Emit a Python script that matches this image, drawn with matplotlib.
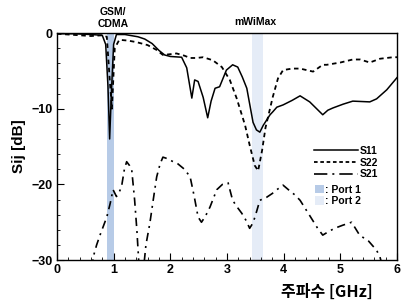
import matplotlib.pyplot as plt
from matplotlib.lines import Line2D
from matplotlib.patches import Patch

plt.rcParams['font.family'] = ['Liberation Sans', 'Noto Sans CJK KR', 'DejaVu Sans']

# S11 (solid)
s11_f = [0, 0.3, 0.6, 0.8, 0.86, 0.9, 0.93, 0.96, 1.0, 1.05, 1.2, 1.43, 1.55, 1.68, 1.8, 1.9,
         2.0, 2.2, 2.29, 2.38, 2.43, 2.49, 2.58, 2.66, 2.72, 2.79, 2.87, 2.99, 3.1, 3.19, 3.27,
         3.35, 3.46, 3.52, 3.58, 3.64, 3.7, 3.76, 3.81, 3.88, 3.99, 4.15, 4.29, 4.46, 4.69, 4.78,
         4.87, 5.05, 5.22, 5.52, 5.64, 5.82, 6.0]
s11 = [-0.1, -0.1, -0.2, -0.3, -1.5, -7.0, -14.0, -8.0, -1.5, -0.2, -0.2, -0.5, -0.8, -1.4, -2.3, -2.9,
       -3.1, -3.2, -4.6, -8.6, -6.2, -6.4, -8.5, -11.2, -9.0, -7.3, -7.1, -4.9, -4.2, -4.5, -5.8,
       -7.3, -11.8, -12.8, -13.1, -12.2, -11.5, -10.8, -10.4, -9.8, -9.5, -8.9, -8.3, -9.1, -10.8, -10.2,
       -9.9, -9.4, -9.0, -9.1, -8.7, -7.5, -5.9]

# S22 (dashed)
s22_f = [0, 0.2, 0.4, 0.6, 0.8, 0.88, 0.93, 0.97, 1.02, 1.1, 1.25, 1.4, 1.6, 1.75, 1.87, 2.0,
         2.11, 2.25, 2.35, 2.46, 2.58, 2.75, 2.91, 3.05, 3.17, 3.32, 3.4, 3.49, 3.55, 3.62, 3.68,
         3.81, 3.9, 3.99, 4.15, 4.29, 4.52, 4.69, 4.76, 5.0, 5.22, 5.35, 5.52, 5.7, 5.93, 6.0]
s22 = [-0.1, -0.2, -0.3, -0.4, -0.3, -0.5, -6.0, -10.0, -2.0, -0.9, -1.0, -1.2, -1.6, -2.2, -2.9, -2.8,
       -2.7, -3.0, -3.3, -3.3, -3.2, -3.6, -4.5, -6.2, -8.6, -12.2, -14.8, -17.5, -18.2, -15.5, -12.5,
       -8.4, -6.0, -4.9, -4.7, -4.7, -5.1, -4.2, -4.2, -3.9, -3.5, -3.5, -3.9, -3.4, -3.2, -3.2]

# S21 (dash-dot)
s21_f = [0.62, 0.64, 0.7, 0.76, 0.82, 0.88, 0.94, 0.99, 1.05, 1.1, 1.14, 1.19, 1.23, 1.28, 1.32,
         1.37, 1.41, 1.45, 1.53, 1.57, 1.64, 1.7, 1.76, 1.82, 1.87, 1.95, 2.05, 2.12, 2.25, 2.35,
         2.42, 2.49, 2.55, 2.62, 2.7, 2.82, 2.92, 3.02, 3.1, 3.18, 3.26, 3.34, 3.4, 3.45, 3.49,
         3.53, 3.58, 3.64, 3.7, 3.8, 3.88, 3.99, 4.1, 4.2, 4.29, 4.45, 4.6, 4.69, 4.8, 4.9,
         5.04, 5.12, 5.2, 5.34, 5.5, 5.64, 5.7, 5.75]
s21 = [-31, -29.6, -28, -26.7, -25.5, -24.3, -22.5, -20.7, -21.6, -21, -20.3, -18, -17, -17.5, -18.1,
       -22, -26, -31, -31, -28, -25.1, -22, -19, -17.3, -16.4, -16.6, -17, -17.2, -18, -19,
       -21.5, -24.3, -25, -24.2, -23, -20.7, -20, -19.8, -22.1, -23, -23.8, -24.8, -25.8, -25.2, -24.4,
       -23.4, -22.1, -21.9, -21.7, -21.2, -20.7, -20.1, -20.8, -21.4, -22.1, -24, -25.8, -26.7, -26.2, -25.8,
       -25.4, -25.2, -25.0, -26.7, -27.5, -28.7, -29.6, -31]

port1_band = (0.88, 1.0)
port2_band = (3.44, 3.63)

fig = plt.figure(figsize=(4.01, 3.0), dpi=100)
ax = fig.add_axes([0.142, 0.133, 0.848, 0.757])

c1 = '#b7cbe7'
c2 = '#e5ecf7'
ax.axvspan(*port1_band, color=c1, lw=0, zorder=0)
ax.axvspan(*port2_band, color=c2, lw=0, zorder=0)

ax.plot(s11_f, s11, color='black', lw=1.1, ls='-')
ax.plot(s22_f, s22, color='black', lw=1.3, ls=(0, (2.5, 2)))
ax.plot(s21_f, s21, color='black', lw=1.2, ls=(0, (5, 3, 1.2, 3)))

ax.set_xlim(0, 6)
ax.set_ylim(-30, 0)
ax.set_xticks(range(7))
ax.set_xticks([i * 0.2 for i in range(31)], minor=True)
ax.set_yticks([0, -10, -20, -30])
ax.set_yticks(range(-30, 1, 2), minor=True)
ax.tick_params(which='both', direction='in', top=False, right=False)
ax.tick_params(which='major', length=5, labelsize=9, pad=3)
ax.tick_params(which='minor', length=2.5)
for lab in ax.get_xticklabels() + ax.get_yticklabels():
    lab.set_fontweight('bold')
for s in ax.spines.values():
    s.set_linewidth(1.0)

ax.set_ylabel('Sij [dB]', fontsize=11, fontweight='bold', labelpad=4)
fig.text(327 / 401, 1 - 292 / 300, '주파수 [GHz]', fontsize=11.5, fontweight='bold',
         ha='center', va='center', family=['Noto Sans CJK KR', 'DejaVu Sans'])

fig.text(113 / 401, 1 - 12 / 300, 'GSM/', fontsize=7.5, fontweight='bold', ha='center', va='center')
fig.text(113 / 401, 1 - 24 / 300, 'CDMA', fontsize=7.5, fontweight='bold', ha='center', va='center')
fig.text(255 / 401, 1 - 22 / 300, 'mWiMax', fontsize=7.5, fontweight='bold', ha='center', va='center')

line_handles = [
    Line2D([], [], color='black', lw=1.1, ls='-'),
    Line2D([], [], color='black', lw=1.3, ls=(0, (2, 1.5))),
    Line2D([], [], color='black', lw=1.2, ls=(0, (8, 3, 1.2, 3))),
]
leg1 = ax.legend(line_handles, ['S11', 'S22', 'S21'], loc='upper left',
                 bbox_to_anchor=(0.74, 0.525), frameon=False, handlelength=4.2,
                 handletextpad=0.2, labelspacing=0.15, borderpad=0,
                 prop={'size': 7.5, 'weight': 'bold'})
ax.add_artist(leg1)
patch_handles = [Patch(color=c1, lw=0), Patch(color=c2, lw=0)]
ax.legend(patch_handles, [': Port 1', ': Port 2'], loc='upper left',
          bbox_to_anchor=(0.745, 0.355), frameon=False, handlelength=0.8, handleheight=0.9,
          handletextpad=0.1, labelspacing=0.15, borderpad=0,
          prop={'size': 7.5, 'weight': 'bold'})

fig.savefig('out.png', dpi=100)
